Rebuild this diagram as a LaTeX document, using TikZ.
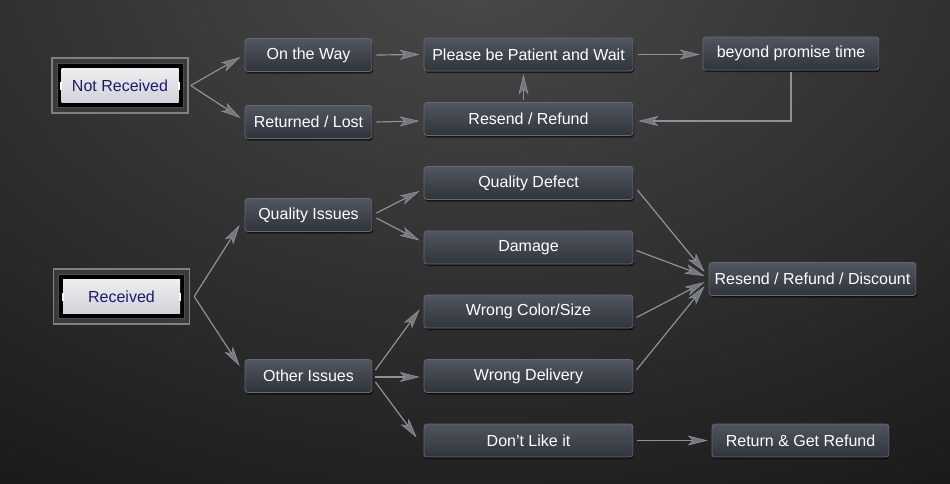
\documentclass[tikz,border=0pt]{standalone}
\usepackage{fontspec}
\setmainfont{Liberation Sans}
\usetikzlibrary{arrows.meta,shadows}
\definecolor{bgdark}{HTML}{1A1A1A}
\definecolor{bglight}{HTML}{4A4A4A}
\definecolor{boxtop}{HTML}{505560}
\definecolor{boxbot}{HTML}{30343B}
\definecolor{boxline}{HTML}{646A73}
\definecolor{arrline}{HTML}{8E9196}
\definecolor{arrfill}{HTML}{747880}
\definecolor{navy}{HTML}{1B1B6E}
\definecolor{frameg}{HTML}{3A3A3A}
\definecolor{framel}{HTML}{808080}
\definecolor{lighttop}{HTML}{EEEEF1}
\definecolor{lightbot}{HTML}{D2D2D8}
\newcommand{\boxfont}{\fontsize{16}{19}\selectfont}
\tikzset{
  box/.style={rounded corners=3pt, draw=boxline, line width=0.8pt, top color=boxtop, bottom color=boxbot,
    text=white, font=\boxfont, inner sep=0pt, minimum height=33pt,
    drop shadow={shadow xshift=1pt, shadow yshift=-2pt, fill=black, opacity=0.6}},
  framebox/.style={draw=framel, line width=1.4pt, fill=frameg, inner sep=0pt, minimum width=136pt, minimum height=55pt},
  blackin/.style={fill=black, draw=gray!60!black, line width=0.8pt, inner sep=0pt, minimum width=126pt, minimum height=44pt},
  lightbox/.style={top color=lighttop, bottom color=lightbot, text=navy, font=\boxfont, inner sep=0pt,
    minimum width=117pt, minimum height=34pt},
  arr/.style={draw=arrline, line width=1.2pt, -{Stealth[length=20pt,width=10pt,inset=5pt,line width=0.6pt,fill=arrfill]}},
}
\begin{document}
\begin{tikzpicture}[x=1pt,y=-1pt]
% background
\path[use as bounding box] (0,0) rectangle (950,483);
\fill[bgdark] (0,0) rectangle (950,483);
\begin{scope}
\clip (0,0) rectangle (950,483);
\shade[inner color=bglight, outer color=bgdark] (475,-40) ellipse (900 and 620);
\end{scope}

% Not Received frame
\node[framebox] (nr) at (120,85.5) {};
\node[blackin] at (nr.center) {};
\node[lightbox] (nrt) at (nr.center) {Not Received};
\fill[white] ([xshift=-1pt,yshift=4pt]nrt.west) rectangle ++(2,8);
\fill[white] ([xshift=-1pt,yshift=4pt]nrt.east) rectangle ++(2,8);

% Received frame
\node[framebox] (rv) at (121.5,296.5) {};
\node[blackin] at (rv.center) {};
\node[lightbox] (rvt) at (rv.center) {Received};
\fill[white] ([xshift=-1pt,yshift=4pt]rvt.west) rectangle ++(2,8);
\fill[white] ([xshift=-1pt,yshift=4pt]rvt.east) rectangle ++(2,8);

% boxes
\node[box, minimum width=127pt] (ow) at (308.5,55) {On the Way};
\node[box, minimum width=127pt] (rl) at (308.5,122) {Returned / Lost};
\node[box, minimum width=209pt] (pp) at (528.5,54.5) {Please be Patient and Wait};
\node[box, minimum width=209pt] (rr) at (528.5,119) {Resend / Refund};
\node[box, minimum width=176pt] (bp) at (791,53.5) {beyond promise time};

\node[box, minimum width=127pt] (qi) at (308.5,215) {Quality Issues};
\node[box, minimum width=127pt] (oi) at (308.5,376) {Other Issues};
\node[box, minimum width=209pt] (qd) at (528.5,183) {Quality Defect};
\node[box, minimum width=209pt] (dm) at (528.5,247.5) {Damage};
\node[box, minimum width=209pt] (wc) at (528.5,311.5) {Wrong Color/Size};
\node[box, minimum width=209pt] (wd) at (528.5,376) {Wrong Delivery};
\node[box, minimum width=209pt] (dl) at (528.5,440.5) {Don’t Like it};
\node[box, minimum width=207pt] (rrd) at (812.5,279) {Resend / Refund / Discount};
\node[box, minimum width=177pt] (ret) at (800.5,440.5) {Return \& Get Refund};

% connectors (top)
\draw[arr] ([xshift=2pt]nr.east) -- ([xshift=-4pt,yshift=-2pt]ow.west);
\draw[arr] ([xshift=2pt]nr.east) -- ([xshift=-4pt,yshift=4pt]rl.west);
\draw[arr] ([xshift=4pt]ow.east) -- ([xshift=-4pt]pp.west);
\draw[arr] ([xshift=4pt]rl.east) -- ([xshift=-4pt,yshift=-2pt]rr.west);
\draw[arr] ([xshift=-5pt,yshift=2pt]rr.north) -- ([xshift=-5pt,yshift=-3pt]pp.south);
\draw[arr] ([xshift=5pt]pp.east) -- ([xshift=-3pt,yshift=-1pt]bp.west);
\draw[arr] ([yshift=-2pt]bp.south) |- ([xshift=5pt,yshift=-2pt]rr.east);

% connectors (bottom)
\draw[arr] ([xshift=4pt]rv.east) -- ([xshift=-5pt,yshift=-10pt]qi.west);
\draw[arr] ([xshift=4pt]rv.east) -- ([xshift=-5pt,yshift=10pt]oi.west);
\draw[arr] ([xshift=4pt,yshift=2pt]qi.east) -- ([xshift=-4pt,yshift=-8pt]qd.west);
\draw[arr] ([xshift=4pt,yshift=-3pt]qi.east) -- ([xshift=-4pt,yshift=7pt]dm.west);
\draw[arr] ([xshift=3pt,yshift=6pt]oi.east) -- ([xshift=-4pt,yshift=2pt]wc.west);
\draw[arr] ([xshift=3pt,yshift=-1pt]oi.east) -- ([xshift=-4pt,yshift=-1pt]wd.west);
\draw[arr] ([xshift=3pt,yshift=-6pt]oi.east) -- ([xshift=-7pt,yshift=3pt]dl.west);
\draw[arr] ([xshift=4pt,yshift=-7pt]qd.east) -- ([xshift=-4pt,yshift=7pt]rrd.west);
\draw[arr] ([xshift=3pt,yshift=-3pt]dm.east) -- ([xshift=-4pt,yshift=3pt]rrd.west);
\draw[arr] ([xshift=3pt,yshift=-6pt]wc.east) -- ([xshift=-4pt,yshift=-3pt]rrd.west);
\draw[arr] ([xshift=3pt,yshift=6pt]wd.east) -- ([xshift=-4pt,yshift=-7pt]rrd.west);
\draw[arr] ([xshift=4pt]dl.east) -- ([xshift=-4pt]ret.west);
\end{tikzpicture}
\end{document}
